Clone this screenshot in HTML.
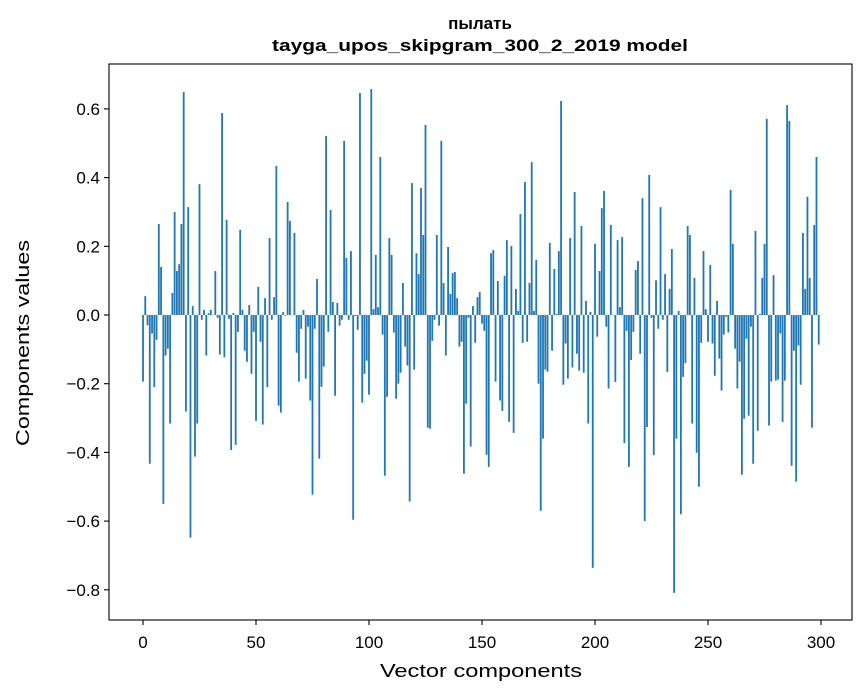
<!DOCTYPE html>
<html><head><meta charset="utf-8"><style>
html,body{margin:0;padding:0;background:#fff;}
svg{display:block;font-family:"Liberation Sans","DejaVu Sans",sans-serif;}
</style></head><body>
<svg id="chart" width="867" height="696" viewBox="0 0 867 696">
<rect x="0" y="0" width="867" height="696" fill="#fff"/>
<text x="480" y="29" text-anchor="middle" font-size="17" font-weight="bold">пылать</text>
<text x="480" y="51" text-anchor="middle" font-size="17" font-weight="bold" textLength="416" lengthAdjust="spacingAndGlyphs">tayga_upos_skipgram_300_2_2019 model</text>
<g id="bars"></g>
<g id="xticks"></g>
<g id="yticks"></g>
<rect x="109" y="64" width="743" height="556" fill="none" stroke="#000" stroke-width="1.1"/>
<text x="481" y="677" text-anchor="middle" font-size="18" textLength="202" lengthAdjust="spacingAndGlyphs">Vector components</text>
<text transform="translate(29,343) rotate(-90)" text-anchor="middle" font-size="18" textLength="206" lengthAdjust="spacingAndGlyphs">Components values</text>
</svg>
<script>
const values = [
-0.194,0.055,-0.03,-0.433,-0.054,-0.21,-0.072,0.265,0.14,-0.55,
-0.118,-0.098,-0.316,0.064,0.30,0.128,0.148,0.265,0.649,-0.281,
0.314,-0.648,0.026,-0.412,-0.316,0.381,-0.014,0.015,-0.118,0.005,
0.015,0.0,0.128,-0.008,-0.115,0.588,-0.123,0.277,-0.011,-0.393,
0.006,-0.378,-0.049,0.248,0.015,-0.104,-0.136,0.029,-0.171,-0.049,
-0.308,0.082,-0.078,-0.319,0.049,-0.21,0.224,-0.014,0.052,0.434,
-0.264,-0.284,0.009,-0.002,0.329,0.274,0.0,0.239,-0.11,-0.194,
-0.04,0.015,-0.185,-0.034,-0.249,-0.523,-0.04,0.105,-0.418,-0.209,
-0.15,0.521,-0.049,0.306,0.038,-0.235,0.035,-0.031,-0.014,0.507,
0.166,-0.014,0.186,-0.596,-0.003,-0.043,0.646,-0.255,-0.171,-0.133,
-0.232,0.658,0.017,0.175,0.023,0.46,-0.057,-0.468,-0.238,0.224,
0.175,-0.051,-0.244,-0.2,-0.168,0.093,-0.092,-0.147,-0.543,0.384,
-0.159,0.18,0.119,0.37,0.233,0.553,-0.328,-0.331,-0.075,-0.014,
0.233,-0.031,0.507,0.093,-0.118,0.198,0.061,0.122,0.125,0.049,
-0.092,-0.078,-0.462,-0.258,-0.008,-0.383,0.026,-0.081,0.052,0.067,
-0.025,-0.046,-0.407,-0.442,0.18,0.189,-0.194,0.099,-0.249,-0.279,
0.114,0.218,-0.311,0.201,-0.343,0.076,0.012,0.294,-0.081,0.387,
-0.078,0.093,0.445,0.012,0.16,-0.2,-0.57,-0.36,-0.159,-0.165,
0.21,-0.104,0.134,0.003,0.186,0.623,-0.203,-0.083,-0.185,0.224,
-0.153,0.358,-0.113,-0.162,0.259,-0.168,0.041,-0.316,0.009,-0.736,
0.207,-0.063,0.128,0.311,0.361,-0.034,-0.214,0.262,0.0,-0.195,
0.218,0.023,0.227,-0.373,-0.046,-0.442,-0.131,-0.049,0.131,0.157,
-0.113,0.34,-0.6,-0.326,0.408,-0.008,-0.408,0.101,-0.04,0.314,
-0.014,0.119,-0.166,0.076,0.192,-0.809,-0.36,0.012,-0.58,-0.18,
-0.14,0.259,0.233,-0.316,0.108,-0.401,-0.5,-0.081,0.186,0.017,
-0.078,0.146,-0.083,-0.177,0.041,-0.127,-0.22,-0.057,-0.005,-0.051,
0.364,0.207,-0.098,-0.214,-0.136,-0.465,-0.302,-0.069,-0.293,-0.034,
-0.433,0.245,-0.337,0.003,0.108,0.207,0.571,-0.322,-0.194,0.116,
-0.191,-0.188,-0.054,-0.311,-0.191,0.611,0.565,-0.439,-0.104,-0.485,
-0.089,-0.203,0.239,0.076,0.344,0.108,-0.328,0.262,0.46,-0.086
];
const xTicks = [0,50,100,150,200,250,300];
const yTicks = [-0.8,-0.6,-0.4,-0.2,0.0,0.2,0.4,0.6];
const NS = "http://www.w3.org/2000/svg";
function xs(v){ return 143 + v*2.26; }
function ys(v){ return 315 - v*343.5; }
const bars = document.getElementById('bars');
values.forEach(function(v,i){
  const r = document.createElementNS(NS,'rect');
  const y0 = ys(0), y1 = ys(v);
  r.setAttribute('x', xs(i-0.4));
  r.setAttribute('width', 2.26*0.8);
  r.setAttribute('y', Math.min(y0,y1));
  r.setAttribute('height', Math.max(Math.abs(y1-y0),0.3));
  r.setAttribute('fill', '#1f77b4');
  
  
  bars.appendChild(r);
});
const xg = document.getElementById('xticks');
xTicks.forEach(function(t){
  const l = document.createElementNS(NS,'line');
  l.setAttribute('x1', xs(t)); l.setAttribute('x2', xs(t));
  l.setAttribute('y1', 620); l.setAttribute('y2', 625);
  l.setAttribute('stroke', '#000'); l.setAttribute('stroke-width', '1.1');
  
  
  xg.appendChild(l);
  const tx = document.createElementNS(NS,'text');
  tx.setAttribute('x', xs(t)); tx.setAttribute('y', 648);
  tx.setAttribute('text-anchor', 'middle'); tx.setAttribute('font-size', '17');
  tx.textContent = String(t);
  
  
  xg.appendChild(tx);
});
const yg = document.getElementById('yticks');
yTicks.forEach(function(t){
  const l = document.createElementNS(NS,'line');
  l.setAttribute('x1', 104); l.setAttribute('x2', 109);
  l.setAttribute('y1', ys(t)); l.setAttribute('y2', ys(t));
  l.setAttribute('stroke', '#000'); l.setAttribute('stroke-width', '1.1');
  
  
  yg.appendChild(l);
  const tx = document.createElementNS(NS,'text');
  tx.setAttribute('x', 100); tx.setAttribute('y', ys(t)+6);
  tx.setAttribute('text-anchor', 'end'); tx.setAttribute('font-size', '17');
  tx.textContent = (t<0?'\u2212':'') + Math.abs(t).toFixed(1);
  
  
  yg.appendChild(tx);
});
</script>
</body></html>
